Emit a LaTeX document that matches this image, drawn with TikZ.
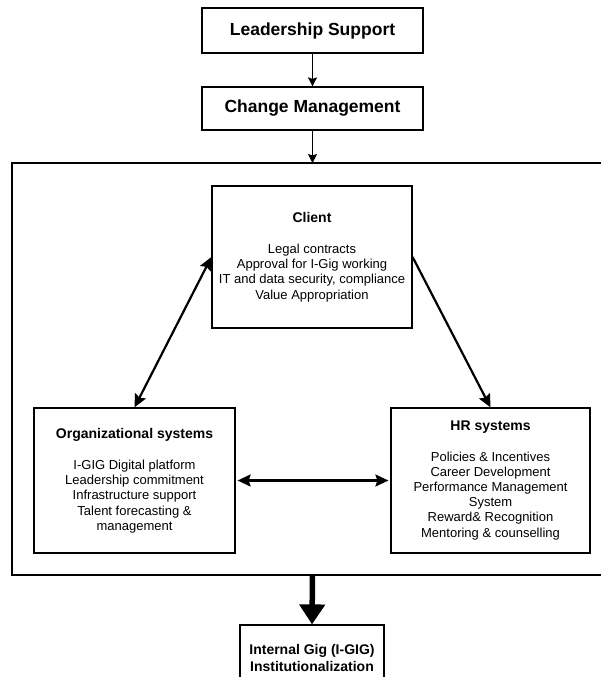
\documentclass[tikz,border=0pt]{standalone}
\usepackage{fontspec}
\setmainfont{Liberation Sans}
\usetikzlibrary{arrows.meta}
\begin{document}
\begin{tikzpicture}[x=1pt,y=-1pt,
  box/.style={draw=black, line width=1.2pt, inner sep=0pt, align=center},
  topbox/.style={box, minimum width=221pt, font=\fontsize{17.5}{20}\selectfont\bfseries},
  sysbox/.style={box, font=\fontsize{13}{15.2}\selectfont},
  arr/.style={line width=1.3pt, -{Stealth[length=9pt,width=9pt,inset=1.5pt]}},
  darr/.style={line width=2.2pt, {Stealth[length=13pt,width=12pt,inset=2pt]}-{Stealth[length=13pt,width=12pt,inset=2pt]}},
  sarr/.style={line width=2.2pt, -{Stealth[length=13pt,width=12pt,inset=2pt]}}
]
\useasboundingbox (0,0) rectangle (601,677);

\node[topbox, minimum height=45pt] (lead) at (312.5,30.5) {Leadership Support};
\node[topbox, minimum height=43pt] (change) at (312.5,108.5) {Change Management};

\coordinate (otop) at (312.5,163);
\coordinate (obot) at (312.5,575);
\coordinate (otr) at (602,163);
\coordinate (otl) at (12,163);
\coordinate (obl) at (12,575);
\coordinate (obr) at (602,575);
\draw[line width=1.3pt] (otr) -- (otl) -- (obl) -- (obr);

\draw[arr] (lead.south) -- (change.north);
\draw[arr] (change.south) -- (otop);

\node[sysbox, minimum width=200pt, minimum height=142pt] (client) at (312,257)
  {{\bfseries\fontsize{14}{15}\selectfont Client}\\[16pt]
   Legal contracts\\ Approval for I-Gig working\\ IT and data security, compliance\\ Value Appropriation};

\node[sysbox, minimum width=201pt, minimum height=145pt] (org) at (134.5,480.5)
  {{\bfseries\fontsize{14}{15}\selectfont Organizational systems}\\[16pt]
   I-GIG Digital platform\\ Leadership commitment\\ Infrastructure support\\ Talent forecasting \&\\ management};

\node[sysbox, minimum width=199pt, minimum height=145pt] (hr) at (490.5,480.5)
  {{\bfseries\fontsize{14}{15}\selectfont HR systems}\\[15pt]
   Policies \& Incentives\\ Career Development\\ Performance Management\\ System\\ Reward\& Recognition\\ Mentoring \& counselling};

\draw[darr] (client.west) -- (org.north);
\draw[sarr] (client.east) -- (hr.north);
\draw[darr, shorten <=2pt, shorten >=2pt] (org.east) -- (hr.west);

\node[box, minimum width=144pt, minimum height=65pt, font=\fontsize{14}{17}\selectfont\bfseries] (igig) at (312,657.5)
  {Internal Gig (I-GIG)\\Institutionalization};

\draw[line width=5.5pt, -{Triangle[length=20pt,width=25pt]}] (obot) -- (igig.north);
\end{tikzpicture}
\end{document}
